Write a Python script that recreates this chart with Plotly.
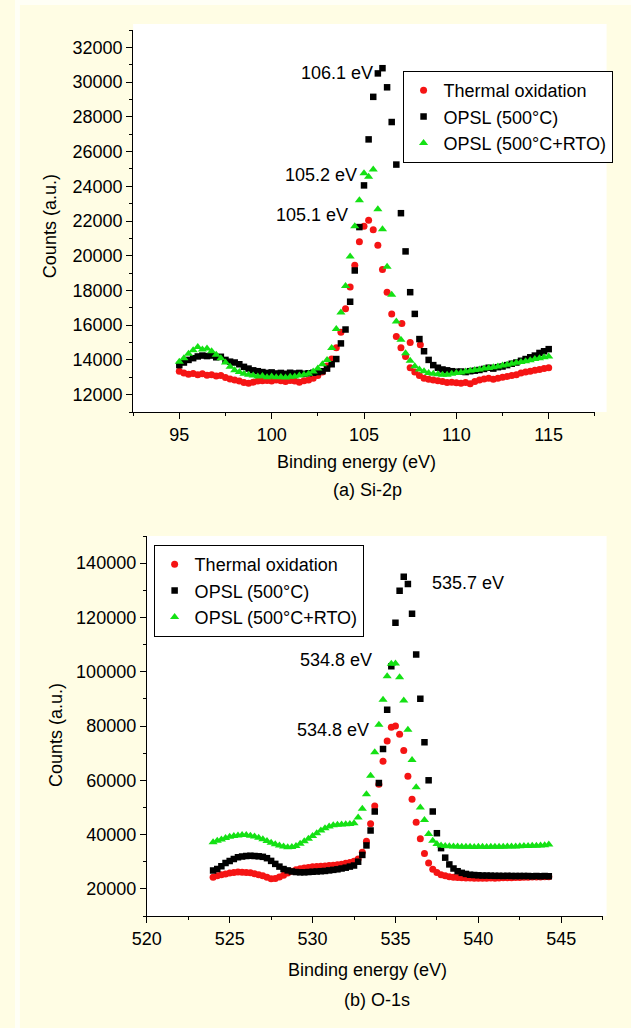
import numpy as np
import plotly.graph_objects as go

W, H = 631, 1028

# ---------------- Data: Si-2p (binding energy 95 ... 115 eV, 0.25 eV step) ----------------
si_start, si_step = 95.0, 0.25
si_thermal = [
    13350, 13250, 13180, 13220,
    13150, 13200, 13120, 13150,
    13080, 13100, 12980, 12900,
    12850, 12780, 12700, 12650,
    12720, 12780, 12800, 12820,
    12780, 12850, 12800, 12760,
    12820, 12780, 12720, 12800,
    12850, 12950, 13100, 13300,
    13650, 14050, 14700, 15600,
    16950, 18200, 19450, 20800,
    21700, 22050, 21500, 20600,
    19200, 17900, 16650, 15350,
    14700, 14200, 13550, 13300,
    13100, 12950, 12880, 12850,
    12800, 12750, 12700, 12720,
    12680, 12650, 12700, 12620,
    12750, 12850, 12900, 12950,
    12880, 12950, 13000, 13050,
    13100, 13150, 13250, 13300,
    13350, 13400, 13450, 13500,
    13550,
]
si_thermal_extra_x = [107.05, 107.5, 108.05]
si_thermal_extra_y = [16100, 15000, 14870]
si_opsl = [
    13700, 13850, 14000, 14100,
    14200, 14250, 14220, 14250,
    14150, 14180, 14000, 13900,
    13850, 13750, 13600, 13500,
    13400, 13350, 13300, 13250,
    13280, 13220, 13250, 13200,
    13260, 13220, 13250, 13200,
    13230, 13260, 13300, 13350,
    13500, 13750, 14050, 14950,
    15750, 17350, 19150, 21650,
    24050, 26700, 29150, 30500,
    30800, 29700, 27700, 25250,
    22450, 20250, 17900, 16650,
    15200, 14500, 14000, 13700,
    13550, 13450, 13400, 13350,
    13320, 13330, 13300, 13350,
    13380, 13420, 13480, 13550,
    13500, 13580, 13620, 13700,
    13780, 13850, 13950, 14050,
    14150, 14250, 14400, 14500,
    14620,
]
si_opsl_rto = [
    13900, 14100, 14350, 14550,
    14750, 14600, 14650, 14500,
    14300, 14100, 13850, 13600,
    13400, 13300, 13200, 13150,
    13100, 13050, 13080, 13000,
    13050, 13000, 13020, 12980,
    13030, 13050, 13100, 13150,
    13200, 13330, 13500, 13750,
    14000, 14680, 15780, 16730,
    18260, 19950, 21700, 23200,
    24750, 24550, 24970, 22670,
    21520, 19370, 17750, 16210,
    15160, 14390, 13950, 13630,
    13450, 13350, 13250, 13200,
    13180, 13150, 13150, 13200,
    13250, 13280, 13330, 13380,
    13420, 13450, 13500, 13530,
    13580, 13620, 13680, 13720,
    13780, 13830, 13880, 13920,
    13980, 14050, 14100, 14150,
    14200,
]

# ---------------- Data: O-1s (binding energy 524 ... 544.25 eV, 0.25 eV step) ----------------
o_start, o_step = 524.0, 0.25
o_thermal = [
    24300, 24800, 25200, 25500,
    25800, 26000, 26200, 26100,
    26000, 25900, 25600, 25200,
    24800, 24300, 23700, 23800,
    24400, 25000, 25800, 26500,
    27000, 27400, 27700, 27900,
    28100, 28200, 28300, 28400,
    28600, 28700, 28900, 29100,
    29400, 29700, 30200, 31000,
    33500, 37500, 44000, 50500,
    58500, 67000, 74500, 79500,
    80000, 77000, 71000, 61500,
    53000, 44500, 38500, 33000,
    29500, 27200, 26000, 25200,
    24800, 24500, 24300, 24200,
    24100, 24000, 24000, 23950,
    23900, 23950, 23900, 24000,
    23950, 24000, 24050, 24100,
    24100, 24150, 24200, 24250,
    24300, 24350, 24350, 24400,
    24450, 24500,
]
o_opsl = [
    26800, 27300, 28300, 29500,
    30300, 31000, 31600, 31900,
    32100, 32200, 32100, 32000,
    31800, 31300, 30300, 29200,
    28200, 27300, 26800, 26400,
    26200, 26100, 26100, 26200,
    26300, 26400, 26500, 26600,
    26800, 27000, 27200, 27500,
    27800, 28200, 28600, 30000,
    32500, 36000, 41500, 48500,
    59000, 71500, 86000, 102000,
    118000, 129800, 135000, 132300,
    121400, 106300, 90000, 74000,
    60000, 48500, 40500, 35000,
    31500, 29000, 27500, 26500,
    25900, 25500, 25200, 25100,
    25000, 24900, 24900, 24850,
    24800, 24800, 24750, 24800,
    24750, 24700, 24750, 24700,
    24700, 24650, 24700, 24650,
    24700, 24650,
]
o_opsl_rto = [
    37200, 37700, 38200, 38700,
    39200, 39500, 39700, 39800,
    39800, 39600, 39300, 38800,
    38300, 37600, 37000, 36400,
    36000, 35600, 35300, 35400,
    35800, 36600, 37500, 38500,
    39500, 40500, 41500, 42300,
    43000, 43400, 43600, 43700,
    43800, 43900, 44200, 46300,
    49500, 54900, 61700, 70300,
    80500, 89700, 98300, 102900,
    103000, 98000, 89400, 78600,
    67500, 57400, 50000, 45400,
    40200, 37700, 36500, 36000,
    35800, 35700, 35600, 35600,
    35500, 35500, 35500, 35450,
    35500, 35500, 35450, 35500,
    35500, 35550, 35500, 35600,
    35600, 35650, 35700, 35750,
    35800, 35850, 35900, 36000,
    36100, 36300,
]

series_names = ["Thermal oxidation", "OPSL (500°C)", "OPSL (500°C+RTO)"]
series_colors = ["rgb(245,20,20)", "rgb(0,0,0)", "rgb(20,225,20)"]
series_symbols = ["circle", "square", "triangle-up"]
series_sizes = [7, 6.5, 8]

si_peak_labels = [("106.1 eV", 105.58, 30500, "right", False),
                  ("105.2 eV", 104.74, 24640, "right", False),
                  ("105.1 eV", 104.26, 22340, "right", True)]
o_peak_labels = [("535.7 eV", 537.06, 132600, "left", False),
                 ("534.8 eV", 533.70, 104200, "right", False),
                 ("534.8 eV", 533.53, 78350, "right", True)]

FONT = "Liberation Sans, Arial, sans-serif"


def grid(start, step, vals):
    return start + step * np.arange(len(vals))


fig = go.Figure()

si_data = [si_thermal, si_opsl, si_opsl_rto]
o_data = [o_thermal, o_opsl, o_opsl_rto]

for i in range(3):
    xs = list(grid(si_start, si_step, si_data[i]))
    ys = list(si_data[i])
    if i == 0:
        xs += si_thermal_extra_x
        ys += si_thermal_extra_y
    fig.add_trace(go.Scatter(
        x=xs, y=ys, mode="markers", name=series_names[i],
        marker=dict(symbol=series_symbols[i], size=series_sizes[i],
                    color=series_colors[i], line=dict(width=0)),
        xaxis="x", yaxis="y", legend="legend"))

for i in range(3):
    fig.add_trace(go.Scatter(
        x=grid(o_start, o_step, o_data[i]), y=o_data[i], mode="markers",
        name=series_names[i],
        marker=dict(symbol=series_symbols[i], size=series_sizes[i],
                    color=series_colors[i], line=dict(width=0)),
        xaxis="x2", yaxis="y2", legend="legend2"))


def px_x(p):
    return p / W


def px_y(p):
    return 1 - p / H


axis_common = dict(showline=True, linecolor="black", linewidth=1, ticks="outside",
                   ticklen=6, tickwidth=1, tickcolor="black", showgrid=False,
                   zeroline=False, tickformat="d",
                   tickfont=dict(family=FONT, size=18, color="black"))

fig.update_layout(
    width=W, height=H,
    margin=dict(l=0, r=0, t=0, b=0),
    paper_bgcolor="#FFFDE4",
    plot_bgcolor="white",
    showlegend=True,
    xaxis=dict(domain=[px_x(121), px_x(594)], range=[92.5, 117.5], anchor="y",
               tick0=0, dtick=5,
               minor=dict(ticks="outside", ticklen=3, tickcolor="black", dtick=2.5, showgrid=False),
               **axis_common),
    yaxis=dict(domain=[px_y(412), px_y(30)], range=[11000, 33000], anchor="x",
               tick0=0, dtick=2000,
               minor=dict(ticks="outside", ticklen=3, tickcolor="black", dtick=1000, showgrid=False),
               **axis_common),
    xaxis2=dict(domain=[px_x(135), px_x(602)], range=[520, 547.5], anchor="y2",
                tick0=0, dtick=5,
                minor=dict(ticks="outside", ticklen=3, tickcolor="black", dtick=2.5, showgrid=False),
                **axis_common),
    yaxis2=dict(domain=[px_y(916), px_y(536)], range=[10000, 150000], anchor="x2",
                tick0=0, dtick=20000,
                minor=dict(ticks="outside", ticklen=3, tickcolor="black", dtick=10000, showgrid=False),
                **axis_common),
    legend=dict(x=px_x(397), y=px_y(71), xanchor="left", yanchor="top",
                bgcolor="white", bordercolor="black", borderwidth=1,
                font=dict(family=FONT, size=18, color="black"), tracegroupgap=0),
    legend2=dict(x=px_x(142), y=px_y(545), xanchor="left", yanchor="top",
                 bgcolor="white", bordercolor="black", borderwidth=1,
                 font=dict(family=FONT, size=18, color="black"), tracegroupgap=0),
)

# white plotting panels (slightly larger than the axes frame) and light outer edge
fig.add_shape(type="rect", xref="paper", yref="paper", x0=px_x(121), x1=px_x(606),
              y0=px_y(412), y1=px_y(24), fillcolor="white", line=dict(width=0), layer="below")
fig.add_shape(type="rect", xref="paper", yref="paper", x0=px_x(135), x1=px_x(606),
              y0=px_y(916), y1=px_y(536), fillcolor="white", line=dict(width=0), layer="below")
fig.add_shape(type="rect", xref="paper", yref="paper", x0=0, x1=1, y0=px_y(5), y1=1,
              fillcolor="#FFFFF6", line=dict(width=0), layer="below")
fig.add_shape(type="rect", xref="paper", yref="paper", x0=0, x1=px_x(5), y0=0, y1=1,
              fillcolor="#FFFFF6", line=dict(width=0), layer="below")

tfont = dict(family=FONT, size=18, color="black")

for text, xv, yv, anc, bg in si_peak_labels:
    fig.add_annotation(x=xv, y=yv, xref="x", yref="y", text=text, showarrow=False,
                       xanchor=anc, yanchor="middle", font=tfont,
                       bgcolor="white" if bg else None, borderpad=1)
for text, xv, yv, anc, bg in o_peak_labels:
    fig.add_annotation(x=xv, y=yv, xref="x2", yref="y2", text=text, showarrow=False,
                       xanchor=anc, yanchor="middle", font=tfont,
                       bgcolor="white" if bg else None, borderpad=1)

texts = [
    ("Counts (a.u.)", 36, 226, -90),
    ("Binding energy (eV)", 350, 462, 0),
    ("(a) Si-2p", 361, 490, 0),
    ("Counts (a.u.)", 42, 735, -90),
    ("Binding energy (eV)", 361, 970, 0),
    ("(b) O-1s", 371, 1000, 0),
]
for t, x, y, ang in texts:
    fig.add_annotation(x=px_x(x), y=px_y(y), xref="paper", yref="paper", text=t,
                       showarrow=False, xanchor="center", yanchor="middle",
                       textangle=ang, font=tfont)

fig.write_html("out.html", config={"displayModeBar": False},
               post_script="document.body.style.margin='0';document.body.style.overflow='hidden';")
